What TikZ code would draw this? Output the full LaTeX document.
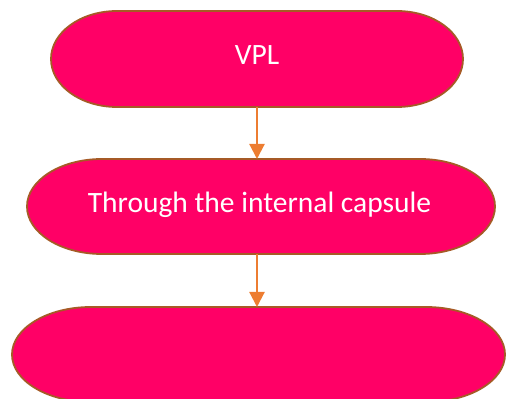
\documentclass[tikz,border=0pt]{standalone}
\usepackage{fontspec}
\setmainfont{Carlito}
\usetikzlibrary{calc,arrows.meta}
\definecolor{boxfill}{HTML}{FF0066}
\definecolor{boxline}{HTML}{A65A26}
\definecolor{arrowc}{HTML}{ED7D31}
\tikzset{
  holder/.style={rectangle, inner sep=0pt, outer sep=0pt},
  term/.style={fill=boxfill, draw=boxline, line width=1.8pt},
  txt/.style={text=white, inner sep=0pt, anchor=base, font=\fontsize{29.5}{35}\selectfont},
  flow/.style={draw=arrowc, line width=2.2pt, -{Triangle[width=15pt,length=15pt]}},
}
% terminator outline around a holder node: #1 node name, #2 end x radius, #3 half height
\newcommand\terminator[3]{%
  \path[term] ($(#1.north west)+(#2,0)$) -- ($(#1.north east)-(#2,0)$)
    arc[start angle=90, end angle=-90, x radius=#2, y radius=#3]
    -- ($(#1.south west)+(#2,0)$)
    arc[start angle=270, end angle=90, x radius=#2, y radius=#3] -- cycle;
}
\begin{document}
\begin{tikzpicture}[x=1pt, y=1pt]
  \useasboundingbox (0,0) rectangle (507,399);
  \node[holder, minimum width=412pt, minimum height=96pt] (a) at (257,340) {};
  \node[holder, minimum width=468pt, minimum height=95pt] (b) at (261,192.5) {};
  \node[holder, minimum width=493pt, minimum height=95pt] (c) at (258.5,44.5) {};
  \terminator{a}{66pt}{48pt}
  \terminator{b}{75pt}{47.5pt}
  \terminator{c}{79pt}{47.5pt}
  \node[txt] (ta) at (257,334) {VPL};
  \node[txt] (tb) at (259.5,186) {Through the internal capsule};
  \draw[flow] (a.south) -- (a.south |- b.north);
  \draw[flow] (a.south |- b.south) -- (a.south |- c.north);
\end{tikzpicture}
\end{document}
